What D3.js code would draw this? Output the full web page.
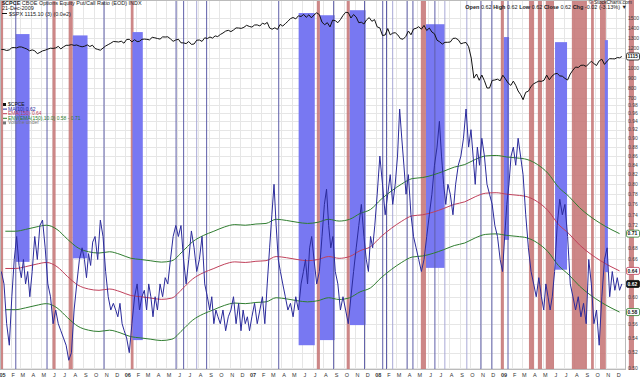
<!DOCTYPE html>
<html>
<head>
<meta charset="utf-8">
<script src="https://cdn.jsdelivr.net/npm/d3@7"></script>
<style>
  body { margin: 0; background: #fff; }
  svg { display: block; font-family: "Liberation Sans", Arial, sans-serif; }
</style>
</head>
<body>
<svg id="chart" width="640" height="379"></svg>
<script>
// ---- data (one list per month, Jan 2005 .. Dec 2009) ----
var firstDay = new Date(2005, 0, 1),
    lastDay = new Date(2009, 11, 21);

// S&P 500 weekly-ish closes
var spx = [
  [1186,1184,1175,1181],[1203,1205,1201,1211],[1210,1200,1190,1172],[1181,1172,1143,1156],
  [1171,1178,1189,1198],[1196,1201,1216,1191],[1211,1227,1227,1234],[1226,1230,1219,1212],
  [1218,1231,1215,1228],[1195,1186,1178,1199],[1220,1234,1248,1265],[1263,1260,1268,1248],
  [1285,1287,1261,1283],[1264,1267,1287,1289],[1287,1281,1307,1302],[1295,1289,1311,1310],
  [1312,1291,1267,1280],[1288,1252,1251,1244],[1265,1236,1240,1278],[1280,1266,1302,1295],
  [1310,1299,1321,1314],[1335,1350,1369,1377],[1364,1380,1401,1400],[1396,1407,1427,1416],
  [1409,1430,1431,1420],[1448,1438,1456,1400],[1388,1402,1386,1436],[1420,1443,1467,1494],
  [1505,1491,1522,1515],[1536,1507,1532,1502],[1530,1552,1534,1458],[1433,1453,1411,1479],
  [1473,1453,1484,1525],[1557,1554,1500,1535],[1509,1453,1458,1440],[1481,1504,1467,1484],
  [1411,1401,1325,1330],[1395,1331,1349,1353],[1331,1293,1288,1315],[1370,1332,1390,1397],
  [1413,1388,1426,1375],[1400,1360,1342,1278],[1262,1239,1257,1257],[1260,1296,1298,1282],
  [1242,1251,1255,1213],[1099,899,940,877],[930,873,800,800],[876,880,888,872],
  [928,890,850,826],[869,827,770,735],[683,757,768,816],[842,856,869,866],
  [877,929,882,919],[940,946,921,918],[896,880,940,979],[1010,1005,1027,1028],
  [1016,1042,1068,1044],[1025,1071,1088,1036],[1069,1093,1092,1091],[1105,1102,1115]
];

// $CPCE MA(10)
var ma10 = [
  [0.64,0.62,0.56,0.53],[0.60,0.66,0.70,0.65],[0.63,0.66,0.62,0.64,0.60],[0.64,0.70,0.66,0.72],
  [0.73,0.68,0.62,0.60],[0.56,0.58,0.56,0.55],[0.54,0.53,0.51,0.52],[0.58,0.62,0.66,0.68],
  [0.66,0.63,0.67,0.65,0.69],[0.70,0.66,0.73,0.70],[0.64,0.60,0.58,0.59],[0.58,0.57,0.59,0.56,0.55],
  [0.54,0.52,0.56,0.60],[0.62,0.58,0.60,0.61],[0.58,0.62,0.60,0.57,0.60],[0.58,0.62,0.60,0.63],
  [0.62,0.66,0.70,0.72],[0.70,0.72,0.66,0.62],[0.66,0.71,0.68,0.64],[0.66,0.70,0.62,0.60],
  [0.58,0.60,0.56,0.58,0.57],[0.56,0.58,0.55,0.57],[0.58,0.60,0.56,0.59],[0.55,0.58,0.56,0.57,0.55],
  [0.57,0.59,0.56,0.58],[0.60,0.56,0.62,0.68],[0.74,0.80,0.72,0.66,0.64],[0.62,0.60,0.58,0.59],
  [0.57,0.60,0.58,0.62],[0.64,0.66,0.62,0.68,0.70],[0.66,0.62,0.64,0.70],[0.76,0.79,0.72,0.68,0.70],
  [0.64,0.62,0.58,0.60],[0.58,0.56,0.60,0.64],[0.68,0.72,0.76,0.70],[0.66,0.64,0.70,0.68,0.72],
  [0.78,0.86,0.80,0.74],[0.78,0.82,0.76,0.80],[0.86,0.97,0.90,0.84,0.78],[0.82,0.74,0.70,0.68],
  [0.66,0.64,0.66,0.70],[0.74,0.78,0.84,0.88],[0.94,0.86,0.80,0.76,0.80],[0.78,0.74,0.80,0.84],
  [0.86,0.90,0.97,0.88],[0.92,0.86,0.80,0.88,0.84],[0.90,0.86,0.80,0.78],[0.76,0.72,0.70,0.66],
  [0.64,0.70,0.76,0.80,0.86],[0.88,0.84,0.90,0.86],[0.82,0.74,0.68,0.64],[0.62,0.60,0.63,0.60],
  [0.58,0.62,0.60,0.58,0.60],[0.64,0.72,0.77,0.74],[0.76,0.70,0.62,0.60],[0.58,0.60,0.57,0.59],
  [0.56,0.66,0.62,0.56],[0.58,0.53,0.60,0.66],[0.68,0.60,0.64,0.61],[0.63,0.61,0.62]
];

// $CPCE EMA(150), one reading per month
var ema150 = [
  0.645,0.645,0.648,0.652,0.655,0.648,0.632,0.618,0.612,0.610,0.612,0.608,
  0.602,0.600,0.598,0.596,0.598,0.612,0.628,0.638,0.645,0.652,0.656,0.655,
  0.657,0.658,0.665,0.663,0.660,0.658,0.660,0.665,0.662,0.665,0.675,0.682,
  0.700,0.715,0.728,0.738,0.740,0.745,0.752,0.760,0.765,0.775,0.782,0.783,
  0.780,0.778,0.775,0.765,0.748,0.722,0.705,0.685,0.670,0.658,0.648,0.641
];
var envPct = 10;

// marked periods
var redBands = [
  ["2004-12-27","2005-01-10"],["2005-06-03","2005-06-12"],["2005-07-20","2005-08-01"],
  ["2006-01-17","2006-01-25"],["2007-07-13","2007-07-22"],["2007-10-08","2007-10-17"],
  ["2008-05-11","2008-05-26"],["2008-12-30","2009-01-08"],["2009-03-22","2009-04-06"],
  ["2009-04-17","2009-04-29"],["2009-05-10","2009-06-03"],["2009-07-25","2009-09-07"],
  ["2009-09-19","2009-09-27"],["2009-10-15","2009-11-01"],["2010-01-07","2010-01-22"]
];
// start, end, top ratio, bottom ratio
var blueBoxes = [
  ["2005-02-16","2005-03-28",1.175,0.656],["2005-08-01","2005-09-13",1.171,0.662],
  ["2006-01-22","2006-02-21",1.181,0.537],["2007-05-21","2007-07-07",1.24,0.530],
  ["2007-07-22","2007-09-03",1.233,0.537],["2007-10-17","2007-12-02",1.249,0.558],
  ["2008-05-26","2008-07-20",1.205,0.646],["2009-01-08","2009-01-23",1.166,0.694],
  ["2009-06-06","2009-07-11",1.151,0.643],["2009-10-29","2009-11-07",1.157,0.639]
];
var blueLines = ["2005-02-16","2005-05-18","2005-10-31","2006-05-29","2006-06-20","2006-08-26",
  "2007-03-24","2007-08-31","2007-11-29","2008-01-21","2008-02-01","2008-04-01","2008-04-18",
  "2008-06-21","2008-11-02","2008-12-04","2009-01-20"];
var paleLines = ["2006-07-28","2008-02-19","2008-07-20","2008-09-22"];

var spxTicks = [700,800,900,1000,1100,1200,1300,1400,1500];
var cpceTicks = [0.50,0.52,0.54,0.56,0.58,0.60,0.62,0.64,0.66,0.68,0.70,0.72,0.74,
  0.76,0.78,0.80,0.82,0.84,0.86,0.88,0.90,0.92,0.94,0.96,0.98];
var monthLetters = ["J","F","M","A","M","J","J","A","S","O","N","D"];

// ---- setup ----
var svg = d3.select("#chart"),
    plotW = 626, plotH = 370;

var x = d3.scaleTime().domain([firstDay, lastDay]).range([0, 623]);
var ySpx = d3.scaleLinear().domain([700, 1500]).range([98, 18]);
var yCp = d3.scaleLog().domain([0.50, 0.98]).range([368, 105]);
var parse = d3.timeParse("%Y-%m-%d");

// spread each month's readings across that month
function monthly(list) {
  var out = [];
  list.forEach(function(vals, m) {
    var m0 = d3.timeMonth.offset(firstDay, m),
        m1 = d3.timeMonth.offset(firstDay, m + 1);
    if (m1 > lastDay) m1 = lastDay;
    vals.forEach(function(v, i) {
      var t = vals.length == 1 ? 0.5 : (i + 0.5) / vals.length;
      out.push({date: new Date(+m0 + t * (m1 - m0)), value: v});
    });
  });
  return out;
}
var spxData = monthly(spx),
    maData = monthly(ma10),
    emaData = monthly(ema150.map(function(v) { return [v]; }));

// grid
var grid = svg.append("g").attr("stroke", "#e6e6e6");
grid.selectAll(".vg").data(x.ticks(d3.timeMonth)).enter().append("line")
    .attr("x1", function(d) { return Math.round(x(d)) + 0.5; })
    .attr("x2", function(d) { return Math.round(x(d)) + 0.5; })
    .attr("y1", 0).attr("y2", plotH);
grid.selectAll(".hs").data(spxTicks).enter().append("line")
    .attr("x1", 0).attr("x2", plotW)
    .attr("y1", function(d) { return Math.round(ySpx(d)) + 0.5; })
    .attr("y2", function(d) { return Math.round(ySpx(d)) + 0.5; });
grid.selectAll(".hc").data(cpceTicks).enter().append("line")
    .attr("x1", 0).attr("x2", plotW)
    .attr("y1", function(d) { return Math.round(yCp(d)) + 0.5; })
    .attr("y2", function(d) { return Math.round(yCp(d)) + 0.5; });

// red bands
svg.append("g").selectAll("rect").data(redBands).enter().append("rect")
    .attr("x", function(d) { return x(parse(d[0])); })
    .attr("width", function(d) { return x(parse(d[1])) - x(parse(d[0])); })
    .attr("y", 0).attr("height", plotH)
    .attr("fill", "#c47272").attr("fill-opacity", 0.85);

// blue boxes
svg.append("g").selectAll("rect").data(blueBoxes).enter().append("rect")
    .attr("x", function(d) { return x(parse(d[0])); })
    .attr("width", function(d) { return x(parse(d[1])) - x(parse(d[0])); })
    .attr("y", function(d) { return yCp(d[2]); })
    .attr("height", function(d) { return yCp(d[3]) - yCp(d[2]); })
    .attr("fill", "#7878f2");

// thin marker lines
svg.append("g").selectAll("line").data(blueLines).enter().append("line")
    .attr("x1", function(d) { return x(parse(d)); })
    .attr("x2", function(d) { return x(parse(d)); })
    .attr("y1", 0).attr("y2", plotH)
    .attr("stroke", "#5e5ea8").attr("stroke-width", 1);
svg.append("g").selectAll("line").data(paleLines).enter().append("line")
    .attr("x1", function(d) { return x(parse(d)); })
    .attr("x2", function(d) { return x(parse(d)); })
    .attr("y1", 0).attr("y2", plotH)
    .attr("stroke", "#a9a9d6").attr("stroke-width", 1);

// indicator lines
var cpLine = d3.line().curve(d3.curveMonotoneX)
    .x(function(d) { return x(d.date); })
    .y(function(d) { return yCp(d.value); });

svg.append("path").datum(emaData.map(function(d) { return {date: d.date, value: d.value * (1 + envPct / 100)}; }))
    .attr("d", cpLine).attr("fill", "none").attr("stroke", "#2f7d2f").attr("stroke-width", 1);
svg.append("path").datum(emaData.map(function(d) { return {date: d.date, value: d.value * (1 - envPct / 100)}; }))
    .attr("d", cpLine).attr("fill", "none").attr("stroke", "#2f7d2f").attr("stroke-width", 1);
svg.append("path").datum(emaData)
    .attr("d", cpLine).attr("fill", "none").attr("stroke", "#c0405a").attr("stroke-width", 1);
svg.append("path").datum(maData)
    .attr("d", d3.line().x(function(d) { return x(d.date); }).y(function(d) { return yCp(d.value); }))
    .attr("fill", "none").attr("stroke", "#2b2b9c").attr("stroke-width", 1);

// S&P 500 overlay
svg.append("path").datum(spxData)
    .attr("d", d3.line().x(function(d) { return x(d.date); }).y(function(d) { return ySpx(d.value); }))
    .attr("fill", "none").attr("stroke", "#111").attr("stroke-width", 1);

// plot frame
svg.append("rect").attr("x", 0.5).attr("y", 0.5).attr("width", plotW - 1).attr("height", plotH - 1)
    .attr("fill", "none").attr("stroke", "#bbb");

// last-value tags (positions)
var lastEma = ema150[ema150.length - 1],
    lastMa = ma10[ma10.length - 1].slice(-1)[0],
    lastSpx = spx[spx.length - 1].slice(-1)[0];
var tags = [
  {y: ySpx(lastSpx), text: String(lastSpx), stroke: "#111", fill: "#fff", color: "#111"},
  {y: yCp(lastEma * (1 + envPct / 100)), text: d3.format(".2f")(lastEma * (1 + envPct / 100)), stroke: "#2f7d2f", fill: "#fff", color: "#111"},
  {y: yCp(lastEma), text: d3.format(".2f")(lastEma), stroke: "#c0405a", fill: "#fff", color: "#111"},
  {y: yCp(lastMa), text: d3.format(".2f")(lastMa), stroke: "#111", fill: "#111", color: "#fff"},
  {y: yCp(lastEma * (1 - envPct / 100)), text: d3.format(".2f")(lastEma * (1 - envPct / 100)), stroke: "#2f7d2f", fill: "#fff", color: "#111"}
];
function clearOfTags(yy) {
  return tags.every(function(t) { return Math.abs(t.y - yy) > 5; });
}

// right axis labels (skipped where a value tag sits on top)
var axisR = svg.append("g").style("font-size", "5px").attr("fill", "#444");
axisR.selectAll(".ls").data(spxTicks.filter(function(d) { return clearOfTags(ySpx(d)); })).enter().append("text")
    .attr("x", 628).attr("y", function(d) { return ySpx(d) + 1.8; })
    .text(function(d) { return d; });
axisR.selectAll(".lc").data(cpceTicks.filter(function(d) { return clearOfTags(yCp(d)); })).enter().append("text")
    .attr("x", 628).attr("y", function(d) { return yCp(d) + 1.8; })
    .text(function(d) { return d3.format(".2f")(d); });

var tg = svg.append("g").selectAll("g").data(tags).enter().append("g");
tg.append("rect").attr("x", 626.5).attr("y", function(d) { return d.y - 3.5; })
    .attr("width", 13).attr("height", 7).attr("rx", 1.5)
    .attr("fill", function(d) { return d.fill; }).attr("stroke", function(d) { return d.stroke; }).attr("stroke-width", 0.8);
tg.append("text").attr("x", 627.5).attr("y", function(d) { return d.y + 1.8; })
    .style("font-size", "5px").style("font-weight", "bold")
    .attr("fill", function(d) { return d.color; })
    .text(function(d) { return d.text; });

// bottom month labels
var xAxis = svg.append("g").style("font-size", "5.5px").attr("fill", "#333");
xAxis.selectAll("text").data(x.ticks(d3.timeMonth)).enter().append("text")
    .attr("x", function(d) { return x(d) + 2.5; })
    .attr("y", 377)
    .attr("text-anchor", "middle")
    .style("font-weight", function(d) { return d.getMonth() == 0 ? "bold" : "normal"; })
    .text(function(d) { return d.getMonth() == 0 ? d3.timeFormat("%y")(d) : monthLetters[d.getMonth()]; });

// header
var head = svg.append("g").style("font-size", "5.5px").attr("fill", "#222");
head.append("text").attr("x", 2).attr("y", 4.5)
    .html('<tspan font-weight="bold">$CPCE</tspan> CBOE Options Equity Put/Call Ratio (EOD) INDX');
head.append("text").attr("x", 2).attr("y", 9.5).text("21-Dec-2009");
head.append("line").attr("x1", 2).attr("x2", 7).attr("y1", 13.5).attr("y2", 13.5).attr("stroke", "#111");
head.append("text").attr("x", 9).attr("y", 15.5).text("$SPX 1115.10 (3) (0.0e2)");
head.append("text").attr("x", 632).attr("y", 4.2).attr("text-anchor", "end").style("font-size", "5px")
    .text("\u00a9 StockCharts.com");
head.append("text").attr("x", 627).attr("y", 9).attr("text-anchor", "end")
    .html('<tspan font-weight="bold">Open</tspan> 0.62 <tspan font-weight="bold">High</tspan> 0.62 ' +
          '<tspan font-weight="bold">Low</tspan> 0.62 <tspan font-weight="bold">Close</tspan> 0.62 ' +
          '<tspan font-weight="bold">Chg</tspan> -0.02 (-3.13%) \u25bc');

// legend
var legend = [
  {text: "$CPCE", color: "#111", mark: "sq"},
  {text: "MA(10) 0.62", color: "#2b2b9c", mark: "ln"},
  {text: "EMA(150) 0.64", color: "#c0405a", mark: "ln"},
  {text: "ENV(EMA(150),10.0) 0.58 - 0.71", color: "#2f7d2f", mark: "ln"},
  {text: "Volume undef", color: "#777", mark: "sq"}
];
var lg = svg.append("g").selectAll("g").data(legend).enter().append("g")
    .attr("transform", function(d, i) { return "translate(3," + (106 + i * 4.6) + ")"; });
lg.filter(function(d) { return d.mark == "sq"; }).append("rect")
    .attr("x", 0).attr("y", -3).attr("width", 3).attr("height", 3).attr("fill", function(d) { return d.color; });
lg.filter(function(d) { return d.mark == "ln"; }).append("line")
    .attr("x1", 0).attr("x2", 4).attr("y1", -1.5).attr("y2", -1.5).attr("stroke", function(d) { return d.color; });
lg.append("text").attr("x", 5).attr("y", 0).style("font-size", "5px")
    .attr("fill", function(d) { return d.color; })
    .text(function(d) { return d.text; });
</script>
</body>
</html>
